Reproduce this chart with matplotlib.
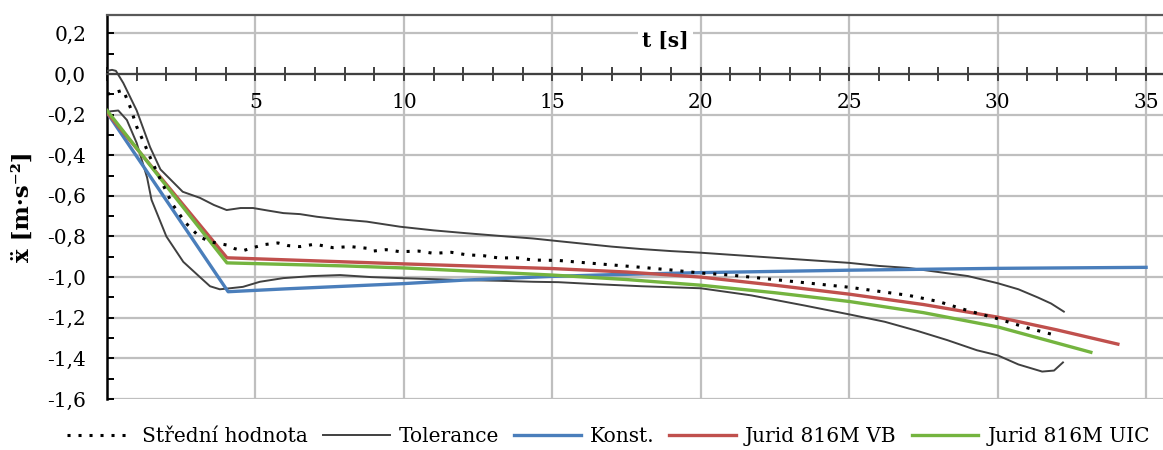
import matplotlib
matplotlib.use("Agg")
import matplotlib.pyplot as plt
from matplotlib.ticker import MultipleLocator, FuncFormatter

# --- data -------------------------------------------------------------
mean_t = [0.0, 0.3, 0.55, 0.8, 1.0, 1.25, 1.45, 1.8, 2.2, 2.63, 3.1, 3.47,
          4.03, 4.3, 4.58, 4.92, 5.3, 5.76, 6.1, 6.5, 7.0, 7.6, 8.2, 8.75,
          8.96, 9.4, 9.87, 10.5, 11.0, 11.6, 12.1, 12.7, 13.2, 13.8, 14.35,
          15.2, 16, 17, 18, 19, 20, 21, 22, 23, 24, 25, 26, 27, 28, 29, 30,
          31, 32.05]
mean_a = [-0.10, -0.09, -0.08, -0.17, -0.26, -0.34, -0.41, -0.52, -0.64,
          -0.73, -0.80, -0.826, -0.842, -0.86, -0.87, -0.855, -0.84, -0.832,
          -0.845, -0.85, -0.838, -0.855, -0.85, -0.858, -0.872, -0.865,
          -0.875, -0.872, -0.883, -0.878, -0.89, -0.895, -0.906, -0.905,
          -0.916, -0.918, -0.928, -0.94, -0.952, -0.965, -0.98, -0.99,
          -1.005, -1.02, -1.035, -1.05, -1.07, -1.09, -1.12, -1.165, -1.205,
          -1.25, -1.29]

tol_up_t = [0.0, 0.17, 0.3, 0.55, 1.0, 1.45, 1.8, 2.55, 3.13, 3.6, 4.03, 4.5,
            4.92, 5.4, 5.94, 6.5, 7.07, 7.8, 8.75, 9.87, 11, 12.1, 13.2,
            14.35, 15.2, 16, 17, 18, 19, 20, 21, 22, 23, 24, 25, 26, 27, 28,
            29, 30, 30.7, 31.35, 31.8, 32.23]
tol_up_a = [0.015, 0.02, 0.015, -0.045, -0.18, -0.36, -0.47, -0.58, -0.61,
            -0.645, -0.67, -0.66, -0.66, -0.672, -0.685, -0.69, -0.703,
            -0.715, -0.727, -0.752, -0.77, -0.784, -0.797, -0.81, -0.823,
            -0.835, -0.85, -0.862, -0.872, -0.88, -0.89, -0.90, -0.91, -0.92,
            -0.93, -0.945, -0.955, -0.975, -0.995, -1.03, -1.06, -1.10,
            -1.13, -1.17]

tol_lo_t = [0.0, 0.38, 0.67, 1.0, 1.35, 1.5, 2.0, 2.57, 3.13, 3.47, 3.8, 4.14,
            4.58, 5.15, 5.94, 6.9, 7.85, 8.9, 9.87, 11, 12.1, 13.2, 14.35,
            15.2, 16.5, 18, 20, 21.7, 23.5, 25.05, 26.2, 27.3, 28.3, 29.3,
            30.0, 30.7, 31.5, 31.9, 32.2]
tol_lo_a = [-0.186, -0.18, -0.227, -0.34, -0.51, -0.62, -0.80, -0.925, -1.0,
            -1.045, -1.06, -1.055, -1.048, -1.023, -1.005, -0.995, -0.99,
            -1.0, -1.005, -1.01, -1.015, -1.018, -1.023, -1.025, -1.035,
            -1.045, -1.055, -1.09, -1.14, -1.185, -1.22, -1.265, -1.31,
            -1.36, -1.385, -1.43, -1.465, -1.46, -1.42]

konst_t = [0.0, 4.08, 6, 8, 10, 12, 14.9, 17, 20, 25, 30, 35]
konst_a = [-0.19, -1.072, -1.058, -1.045, -1.032, -1.015, -0.997, -0.988,
           -0.978, -0.966, -0.957, -0.952]

vb_t = [0.0, 4.04, 8, 10, 15, 17.5, 20, 22.5, 25, 27.5, 30, 32, 34.05]
vb_a = [-0.19, -0.905, -0.925, -0.935, -0.958, -0.975, -1.0, -1.04, -1.084,
        -1.135, -1.197, -1.26, -1.33]

uic_t = [0.0, 4.04, 8, 10, 15, 17.5, 20, 22.5, 25, 27.5, 30, 33.14]
uic_a = [-0.18, -0.93, -0.945, -0.955, -0.99, -1.012, -1.04, -1.077, -1.12,
         -1.175, -1.245, -1.37]

labels = ["Střední hodnota", "Tolerance", "Konst.",
          "Jurid 816M VB", "Jurid 816M UIC"]

# --- figure -------------------------------------------------------------
plt.rcParams["font.family"] = ["DejaVu Serif", "DejaVu Sans"]
fig = plt.figure(figsize=(11.63, 4.5), dpi=100)
ax = fig.add_axes([107 / 1163, 1 - 399 / 450, 1 - 107 / 1163, (399 - 15) / 450])

grid_c = "#bfbfbf"
ax.set_xlim(0, 35.57)
ax.set_ylim(-1.6, 0.29)

for x in range(5, 36, 5):
    ax.axvline(x, color=grid_c, lw=1.6, zorder=0)
for i in range(-8, 2):
    ax.axhline(i * 0.2, color=grid_c, lw=1.6, zorder=0)

l_mean, = ax.plot(mean_t, mean_a, color="black", lw=2.2,
                  linestyle=(0, (1, 2.6)), zorder=5)
l_tol, = ax.plot(tol_up_t, tol_up_a, color="#404040", lw=1.4, zorder=3)
ax.plot(tol_lo_t, tol_lo_a, color="#404040", lw=1.4, zorder=3)
l_k, = ax.plot(konst_t, konst_a, color="#4a7ebb", lw=2.4, zorder=4)
l_vb, = ax.plot(vb_t, vb_a, color="#c0504d", lw=2.4, zorder=4)
l_uic, = ax.plot(uic_t, uic_a, color="#74b43f", lw=2.4, zorder=4)

# spines
ax.spines["right"].set_visible(False)
ax.spines["top"].set_color("#595959")
ax.spines["top"].set_linewidth(1.6)
ax.spines["left"].set_color("black")
ax.spines["left"].set_linewidth(1.8)
ax.spines["bottom"].set_position(("data", 0))
ax.spines["bottom"].set_color("#404040")
ax.spines["bottom"].set_linewidth(1.6)

# ticks
ax.xaxis.set_major_locator(MultipleLocator(5))
ax.xaxis.set_minor_locator(MultipleLocator(1))
ax.yaxis.set_major_locator(MultipleLocator(0.2))
ax.yaxis.set_minor_locator(MultipleLocator(0.1))
ax.xaxis.set_major_formatter(FuncFormatter(lambda v, p: "" if v == 0 else f"{v:.0f}"))
ax.yaxis.set_major_formatter(FuncFormatter(lambda v, p: f"{v:.1f}".replace(".", ",").replace("-0,0", "0,0")))
ax.tick_params(axis="x", which="both", direction="inout", length=10, width=1.4,
               color="#404040", labelsize=14.5, pad=9, top=False)
ax.tick_params(axis="y", which="both", direction="in", length=5, width=1.4,
               color="black", labelsize=14.5, pad=15, right=False)

ax.text(18.8, 0.165, "t [s]", fontsize=14.5, fontweight="bold", ha="center",
        va="center", zorder=6,
        bbox=dict(facecolor="white", edgecolor="none", pad=3))
ax.set_ylabel("ẍ [m·s⁻²]", fontsize=16.5, fontweight="bold")
ax.yaxis.set_label_coords(-0.069, 0.5)

fig.legend([l_mean, l_tol, l_k, l_vb, l_uic], labels, loc="center",
           bbox_to_anchor=(0.523, 1 - 437 / 450), ncol=5, frameon=False,
           fontsize=14.5, handlelength=3.3, handletextpad=0.45,
           columnspacing=0.75)

fig.savefig("out.png", dpi=100)
